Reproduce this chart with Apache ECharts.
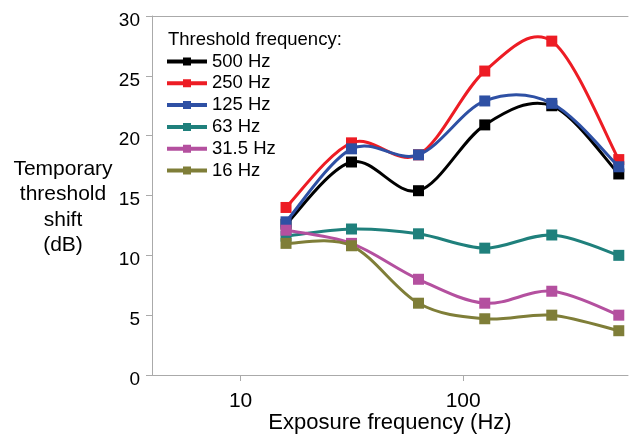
<!DOCTYPE html>
<html>
<head>
<meta charset="utf-8">
<script src="https://cdn.jsdelivr.net/npm/echarts@6/dist/echarts.min.js"></script>
<style>
  html, body { margin: 0; padding: 0; background: #fff; }
  #chart { width: 629px; height: 435px; }
</style>
</head>
<body>
<div id="chart"></div>
<script>
// exposure frequencies (Hz), x axis
var exposureHz = [16, 31.5, 63, 125, 250, 500];

// temporary threshold shift (dB) per threshold frequency
var names = ['500 Hz', '250 Hz', '125 Hz', '63 Hz', '31.5 Hz', '16 Hz'];
var tts500 = [12.6, 17.8, 15.4, 20.9, 22.5, 16.8];
var tts250 = [14.0, 19.4, 18.4, 25.4, 27.9, 18.0];
var tts125 = [12.8, 18.9, 18.4, 22.9, 22.7, 17.4];
var tts63 = [11.6, 12.2, 11.8, 10.6, 11.7, 10.0];
var tts31 = [12.1, 11.0, 8.0, 6.0, 7.0, 5.0];
var tts16 = [11.0, 10.8, 6.0, 4.7, 5.0, 3.7];

var colors = ['#000000', '#ed1c24', '#2e50a4', '#1f807c', '#b4509f', '#7f7e38'];
var xTicks = [10, 100];

var font = 'Liberation Sans, Arial, sans-serif';
// legend icon: short thick line with a square in the middle
var legendIcon = 'path://M0,2L16,2L16,0L24,0L24,2L40,2L40,6L24,6L24,8L16,8L16,6L0,6Z';

function pairs(vals) {
    var out = [];
    for (var i = 0; i < exposureHz.length; i++) {
        out.push([exposureHz[i], vals[i]]);
    }
    return out;
}

// spline through the points (catmull-rom in pixel space, like the excel smoothed line)
function makeRender(vals, color) {
    return function (params, api) {
        var i = params.dataIndex;
        var pts = [];
        for (var k = 0; k < exposureHz.length; k++) {
            pts.push(api.coord([exposureHz[k], vals[k]]));
        }
        var children = [];
        var n = pts.length;
        if (i < n - 1) {
            var p0 = pts[Math.max(i - 1, 0)];
            var p1 = pts[i];
            var p2 = pts[i + 1];
            var p3 = pts[Math.min(i + 2, n - 1)];
            children.push({
                type: 'bezierCurve',
                shape: {
                    x1: p1[0], y1: p1[1],
                    x2: p2[0], y2: p2[1],
                    cpx1: p1[0] + (p2[0] - p0[0]) / 6,
                    cpy1: p1[1] + (p2[1] - p0[1]) / 6,
                    cpx2: p2[0] - (p3[0] - p1[0]) / 6,
                    cpy2: p2[1] - (p3[1] - p1[1]) / 6
                },
                style: { stroke: color, lineWidth: 3, fill: 'none' }
            });
        }
        var p = pts[i];
        children.push({
            type: 'rect',
            shape: { x: p[0] - 5.5, y: p[1] - 5.5, width: 11, height: 11 },
            style: { fill: color }
        });
        return { type: 'group', children: children };
    };
}

var allData = [tts500, tts250, tts125, tts63, tts31, tts16];
var series = [];
var legendData = [];
for (var i = 0; i < names.length; i++) {
    series.push({
        name: names[i],
        type: 'custom',
        coordinateSystem: 'cartesian2d',
        itemStyle: { color: colors[i] },
        encode: { x: 0, y: 1 },
        renderItem: makeRender(allData[i], colors[i]),
        data: pairs(allData[i])
    });
    legendData.push({ name: names[i], icon: legendIcon });
}

var option = {
    animation: false,
    textStyle: { fontFamily: font },
    title: [{
        text: 'Threshold frequency:',
        left: 168,
        top: 30,
        padding: 0,
        textStyle: { fontSize: 18.5, fontWeight: 'normal', color: '#000', fontFamily: font }
    }, {
        // y axis title, centred left of the axis
        text: 'Temporary\nthreshold\nshift\n(dB)',
        left: 63,
        top: 156,
        padding: 0,
        textAlign: 'center',
        textStyle: { fontSize: 21, fontWeight: 'normal', color: '#000', lineHeight: 25.5, fontFamily: font }
    }],
    legend: {
        orient: 'vertical',
        left: 167,
        top: 52,
        padding: 0,
        itemWidth: 40,
        itemHeight: 8,
        itemGap: 2.8,
        data: legendData,
        textStyle: { fontSize: 18.5, color: '#000', fontFamily: font }
    },
    grid: { left: 152, right: 1, top: 16, bottom: 60, outerBoundsMode: 'none' },
    xAxis: [{
        type: 'log',
        logBase: 10,
        min: 4,
        max: 550,
        name: 'Exposure frequency (Hz)',
        nameLocation: 'middle',
        nameGap: 37,
        nameMoveOverlap: false,
        nameTextStyle: { fontSize: 22, color: '#000', fontFamily: font },
        axisLine: { lineStyle: { color: '#aaaaaa', width: 1 } },
        axisTick: { show: true, length: 6, customValues: xTicks, lineStyle: { color: '#aaaaaa' } },
        axisLabel: { customValues: xTicks, fontSize: 21, color: '#000', margin: 16 },
        splitLine: { show: false },
        minorTick: { show: false }
    }, {
        type: 'log',
        logBase: 10,
        min: 4,
        max: 550,
        position: 'top',
        axisLine: { lineStyle: { color: '#aaaaaa', width: 1 } },
        axisTick: { show: false },
        axisLabel: { show: false },
        splitLine: { show: false }
    }],
    yAxis: {
        type: 'value',
        min: 0,
        max: 30,
        interval: 5,
        axisLine: { show: true, lineStyle: { color: '#aaaaaa', width: 1 } },
        axisTick: { show: true, length: 6, lineStyle: { color: '#aaaaaa' } },
        axisLabel: { fontSize: 19, color: '#000', margin: 12, verticalAlign: 'top', lineHeight: 9 },
        splitLine: { show: false }
    },
    series: series
};

var echart = echarts.init(document.getElementById('chart'));
echart.setOption(option);
</script>
</body>
</html>
